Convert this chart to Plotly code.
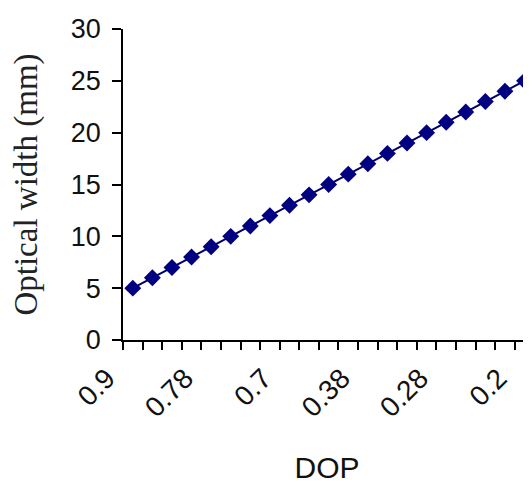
import plotly.graph_objects as go

# Data
tick_labels = ["0.9", "0.78", "0.7", "0.38", "0.28", "0.2"]   # DOP labels shown on every 4th category
label_every = 4
optical_width = [5, 6, 7, 8, 9, 10, 11, 12, 13, 14, 15, 16, 17, 18, 19, 20, 21, 22, 23, 24, 25]

x_index = list(range(len(optical_width)))
tick_vals = x_index[::label_every]

fig = go.Figure()
fig.add_trace(go.Scatter(
    x=x_index, y=optical_width, mode="lines+markers",
    line=dict(color="#000066", width=2),
    marker=dict(symbol="diamond", size=13, color="#000080"),
    showlegend=False, cliponaxis=False,
))

sans = "Liberation Sans, Arial, sans-serif"

# the page body adds an 8px offset, so the figure is sized to the visible area
fig.update_layout(
    width=523, height=476,
    margin=dict(l=115, r=0, t=21, b=144, autoexpand=False),
    paper_bgcolor="white", plot_bgcolor="white",
    xaxis=dict(
        range=[-0.5, 20.33], automargin=False,
        tickmode="array", tickvals=tick_vals, ticktext=tick_labels,
        tickangle=-45, ticks="", tickfont=dict(family=sans, size=28, color="#111111"),
        showline=True, linecolor="black", linewidth=1.5,
        showgrid=False, zeroline=False,
        minor=dict(ticks="outside", ticklen=8, tickwidth=1.5, tickcolor="black",
                   tick0=-0.5, dtick=1, showgrid=False),
        title=dict(text="DOP", font=dict(family=sans, size=30, color="#111111"), standoff=46),
        ticklabelshift=-26, ticklabelstandoff=9,
    ),
    yaxis=dict(
        range=[0, 30], tickmode="linear", tick0=0, dtick=5, automargin=False,
        ticks="outside", ticklen=9, tickwidth=1.5, tickcolor="black",
        tickfont=dict(family=sans, size=27, color="#111111"),
        showline=True, linecolor="black", linewidth=1.5,
        showgrid=False, zeroline=False,
        title=dict(text="Optical width (mm)", font=dict(family="Liberation Serif, Times New Roman, serif", size=33, color="#222222"), standoff=30),
        ticklabelstandoff=6,
    ),
)

fig.write_html("out.html")
